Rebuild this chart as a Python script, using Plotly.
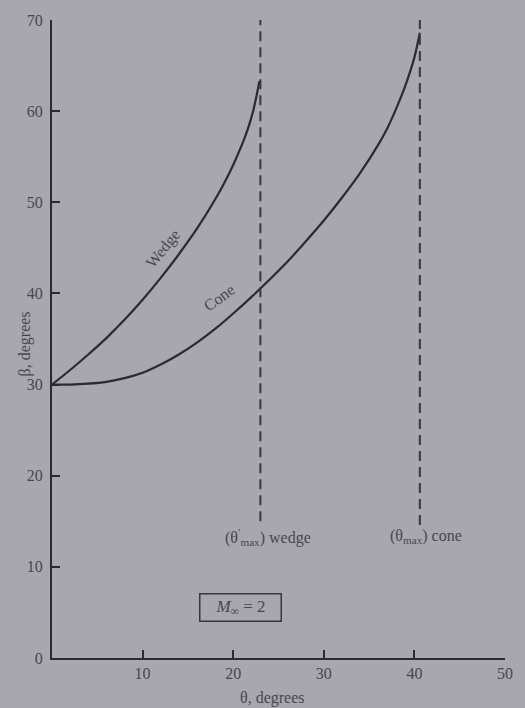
import plotly.graph_objects as go

# Data (M_inf = 2)
theta_wedge = [0, 2, 4, 6, 8, 10, 12, 14, 16, 18, 19, 20, 21, 21.6, 22.2, 22.6, 22.9]
beta_wedge = [30, 31.6, 33.3, 35.1, 37.1, 39.3, 41.7, 44.3, 47.1, 50.3, 52.1, 54.1, 56.4, 58.0, 60.0, 61.8, 63.3]

theta_cone = [0, 2, 4, 6, 8, 10, 12, 14, 16, 18, 20, 22, 24, 26, 28, 30, 32, 34, 36, 37, 38, 39, 40, 40.6]
beta_cone = [30, 30.0, 30.1, 30.3, 30.7, 31.3, 32.2, 33.3, 34.6, 36.1, 37.8, 39.6, 41.5, 43.5,
             45.7, 48.0, 50.5, 53.2, 56.3, 58.1, 60.3, 62.8, 65.9, 68.6]

theta_max_wedge = 23.0
theta_max_cone = 40.6
dash_beta_wedge = [15.0, 70]
dash_beta_cone = [14.6, 70]

x_ticks = [10, 20, 30, 40, 50]
y_ticks = [0, 10, 20, 30, 40, 50, 60, 70]

BG = "#a8a6af"
INK = "#2f2830"
TXT = "#4a4550"
FONT = "Liberation Serif"

fig = go.Figure()
fig.add_trace(go.Scatter(x=theta_wedge, y=beta_wedge, mode="lines",
                         line=dict(color=INK, width=2.2, shape="spline", smoothing=0.8), showlegend=False))
fig.add_trace(go.Scatter(x=theta_cone, y=beta_cone, mode="lines",
                         line=dict(color=INK, width=2.2, shape="spline", smoothing=0.8), showlegend=False))
fig.add_trace(go.Scatter(x=[theta_max_wedge, theta_max_wedge], y=dash_beta_wedge, mode="lines",
                         line=dict(color="#3b3538", width=2, dash="10px,6px"), showlegend=False))
fig.add_trace(go.Scatter(x=[theta_max_cone, theta_max_cone], y=dash_beta_cone, mode="lines",
                         line=dict(color="#3b3538", width=2, dash="10px,6px"), showlegend=False))

ann_font = dict(family=FONT, size=16, color=TXT)
fig.add_annotation(x=11.8, y=44.9, xshift=4, text="Wedge", showarrow=False, textangle=-51, font=ann_font)
fig.add_annotation(x=18.0, y=39.6, xshift=4, text="Cone", showarrow=False, textangle=-36, font=ann_font)
fig.add_annotation(x=theta_max_wedge, y=13.3, xshift=8, text="(θ<sup>′</sup><sub>max</sub>) wedge",
                   showarrow=False, font=ann_font)
fig.add_annotation(x=theta_max_cone, y=13.3, xshift=6, text="(θ<sub>max</sub>) cone",
                   showarrow=False, font=ann_font)
fig.add_annotation(x=20.8, y=5.5, text="<i>M</i><sub>∞</sub> = 2", showarrow=False,
                   font=dict(family=FONT, size=17, color=TXT),
                   bordercolor="#3a3440", borderwidth=1.5, borderpad=3, width=74, height=20)

fig.add_annotation(xref="paper", yref="paper", x=(25 - 52) / 461, y=(658 - 342) / 642,
                   xanchor="center", yanchor="middle",
                   text="β, degrees", textangle=-90, showarrow=False,
                   font=dict(family=FONT, size=16, color=TXT))
fig.add_annotation(xref="paper", yref="paper", x=(276 - 52) / 461, y=(658 - 698) / 642,
                   xanchor="center", yanchor="middle",
                   text="θ, degrees", showarrow=False,
                   font=dict(family=FONT, size=16, color=TXT))

fig.update_layout(
    width=525, height=708,
    margin=dict(l=52, r=12, t=16, b=50),
    paper_bgcolor=BG, plot_bgcolor=BG,
    font=dict(family=FONT, size=16, color=TXT),
    xaxis=dict(range=[0, 50], tickvals=x_ticks, showgrid=False, zeroline=False,
               showline=True, linecolor=INK, linewidth=2, ticks="inside", ticklen=8,
               tickwidth=1.5, tickcolor=INK, ticklabelstandoff=0,
               tickfont=dict(family=FONT, size=16, color=TXT)),
    yaxis=dict(range=[0, 70], tickvals=y_ticks, showgrid=False, zeroline=False,
               showline=True, linecolor=INK, linewidth=2, ticks="inside", ticklen=8,
               tickwidth=1.5, tickcolor=INK, ticklabelstandoff=4,
               tickfont=dict(family=FONT, size=16, color=TXT)),
)

fig.write_html("out.html", config={"displayModeBar": False},
               post_script="document.body.style.margin='0';document.body.style.overflow='hidden';"
                           "document.documentElement.style.background='" + BG + "';")
